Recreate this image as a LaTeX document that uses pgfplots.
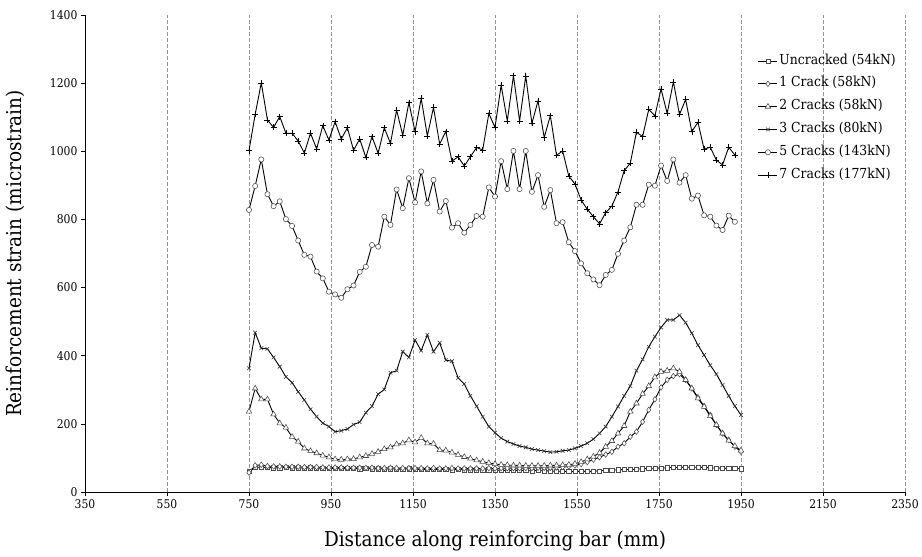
\documentclass[border=0pt]{standalone}
\usepackage{fontspec}
\setmainfont{DejaVu Serif Condensed}
\usepackage{pgfplots}
\pgfplotsset{compat=1.18}
\usepackage{pgfplotstable}

\pgfplotstableread{
x unc c1 c2 c3 c5 c7
750 60 57 236 363 828 1002
765 72 78 304 468 898 1108
780 73 80 272 422 976 1201
795 72 76 272 420 874 1092
810 71 75 228 395 839 1070
825 71 75 202 368 853 1102
840 72 74 189 338 801 1053
855 71 74 162 321 781 1053
870 71 74 148 294 738 1030
885 70 73 128 270 696 995
900 71 73 120 243 691 1053
915 70 73 114 221 647 1007
930 70 72 107 202 627 1075
945 70 72 102 192 588 1033
960 69 72 96 177 580 1087
975 70 72 95 180 570 1036
990 69 71 96 185 595 1069
1005 69 71 97 198 606 1003
1020 68 71 102 205 646 1036
1035 69 71 106 233 661 982
1050 68 71 112 252 725 1043
1065 68 70 118 287 720 994
1080 67 70 126 301 808 1069
1095 68 71 131 350 784 1023
1110 67 70 140 356 888 1121
1125 67 70 143 412 833 1047
1140 68 70 152 395 921 1143
1155 67 70 146 446 850 1058
1170 66 70 159 415 941 1155
1185 67 69 143 461 847 1045
1200 66 70 142 412 916 1129
1215 66 69 123 438 823 1021
1230 66 69 122 387 854 1058
1245 65 70 116 384 776 971
1260 66 69 109 335 789 984
1275 65 69 103 317 761 957
1290 65 69 98 282 784 984
1305 65 69 93 252 810 1011
1320 64 69 89 221 808 1004
1335 65 70 85 192 894 1111
1350 64 69 82 174 867 1070
1365 64 70 80 158 971 1194
1380 63 70 79 148 889 1089
1395 64 70 78 141 1001 1222
1410 63 70 78 135 889 1089
1425 63 70 77 131 1001 1221
1440 62 70 77 126 881 1082
1455 63 71 77 123 930 1148
1470 62 71 77 120 837 1040
1485 62 71 78 117 886 1105
1500 61 72 78 118 789 988
1515 61 73 79 121 792 1001
1530 60 75 80 123 733 927
1545 60 78 83 128 707 904
1560 61 82 88 135 671 857
1575 60 88 96 143 642 830
1590 61 95 104 155 624 808
1605 62 102 115 172 607 787
1620 63 110 133 192 637 820
1635 64 118 150 221 652 839
1650 65 133 172 251 699 881
1665 66 143 194 282 738 943
1680 66 162 236 311 777 965
1695 67 177 260 356 843 1056
1710 68 206 288 389 843 1043
1725 69 241 311 426 902 1123
1740 70 272 337 456 899 1104
1755 70 307 353 483 958 1183
1770 71 329 356 505 913 1111
1785 72 340 363 505 976 1204
1800 72 346 353 519 908 1108
1815 73 329 329 497 930 1152
1830 72 304 304 466 861 1058
1845 73 278 275 431 870 1085
1860 72 252 250 402 812 1006
1875 71 226 223 372 808 1012
1890 70 197 197 346 782 974
1905 70 172 172 314 769 960
1920 69 153 151 282 811 1012
1935 69 133 135 252 793 989
1950 68 118 122 226 nan nan
}\datatable

\begin{document}
\begin{tikzpicture}
\useasboundingbox (-85pt,-65pt) rectangle (837pt,492pt);
\begin{axis}[
  at={(0,0)}, anchor=south west,
  scale only axis, width=820pt, height=477pt,
  xmin=350, xmax=2350, ymin=0, ymax=1400,
  xtick={350,550,...,2350}, ytick={0,200,...,1400},
  axis x line*=bottom, axis y line*=left,
  axis line style={-, black, line width=0.8pt},
  xmajorgrids,
  major grid style={gray!85, dash pattern=on 4pt off 2pt, line width=0.8pt},
  tick align=outside, major tick length=4pt,
  tick style={black, line width=0.6pt},
  /pgf/number format/assume math mode=true,
  /pgf/number format/1000 sep={},
  tick label style={font=\fontsize{12}{14}\selectfont},
  xlabel={Distance along reinforcing bar (mm)},
  ylabel={Reinforcement strain (microstrain)},
  label style={font=\fontsize{20.5}{24}\selectfont},
  xlabel style={at={(axis description cs:0.5,-0.1027)}, anchor=center},
  ylabel style={at={(axis description cs:-0.0854,0.5)}, anchor=center},
  unbounded coords=discard,
  legend cell align=left,
  legend style={at={(axis cs:1991,1283)}, anchor=north west, draw=none, fill=none,
    inner sep=0pt, row sep=10.8pt, font=\fontsize{13.8}{16}\selectfont,
    nodes={inner sep=0pt, text height=9pt, text depth=3pt},
    /tikz/every odd column/.style={column sep=1.5pt}},
  legend image code/.code={\draw[mark repeat=2,mark phase=2] plot coordinates {(0pt,0pt) (9.5pt,0pt) (19pt,0pt)};},
]
\addplot[black, line width=0.9pt, mark=square*, mark size=2.1pt, mark options={draw=black!70, fill=white, line width=0.55pt}] table[x=x,y=unc]{\datatable};
\addlegendentry{Uncracked (54kN)}
\addplot[black, line width=0.9pt, mark=diamond*, mark size=2.8pt, mark options={draw=black!70, fill=white, line width=0.55pt}] table[x=x,y=c1]{\datatable};
\addlegendentry{1 Crack (58kN)}
\addplot[black, line width=0.9pt, mark=triangle*, mark size=3.2pt, mark options={draw=black!70, fill=white, line width=0.55pt}] table[x=x,y=c2]{\datatable};
\addlegendentry{2 Cracks (58kN)}
\addplot[black, line width=0.9pt, mark=x, mark size=2.6pt, mark options={draw=black!80, line width=0.55pt}] table[x=x,y=c3]{\datatable};
\addlegendentry{3 Cracks (80kN)}
\addplot[black, line width=0.9pt, mark=*, mark size=2.6pt, mark options={draw=black!70, fill=white, line width=0.55pt}] table[x=x,y=c5]{\datatable};
\addlegendentry{5 Cracks (143kN)}
\addplot[black, line width=0.9pt, mark=+, mark size=3pt, mark options={draw=black, line width=0.55pt}] table[x=x,y=c7]{\datatable};
\addlegendentry{7 Cracks (177kN)}
\end{axis}
\end{tikzpicture}
\end{document}
